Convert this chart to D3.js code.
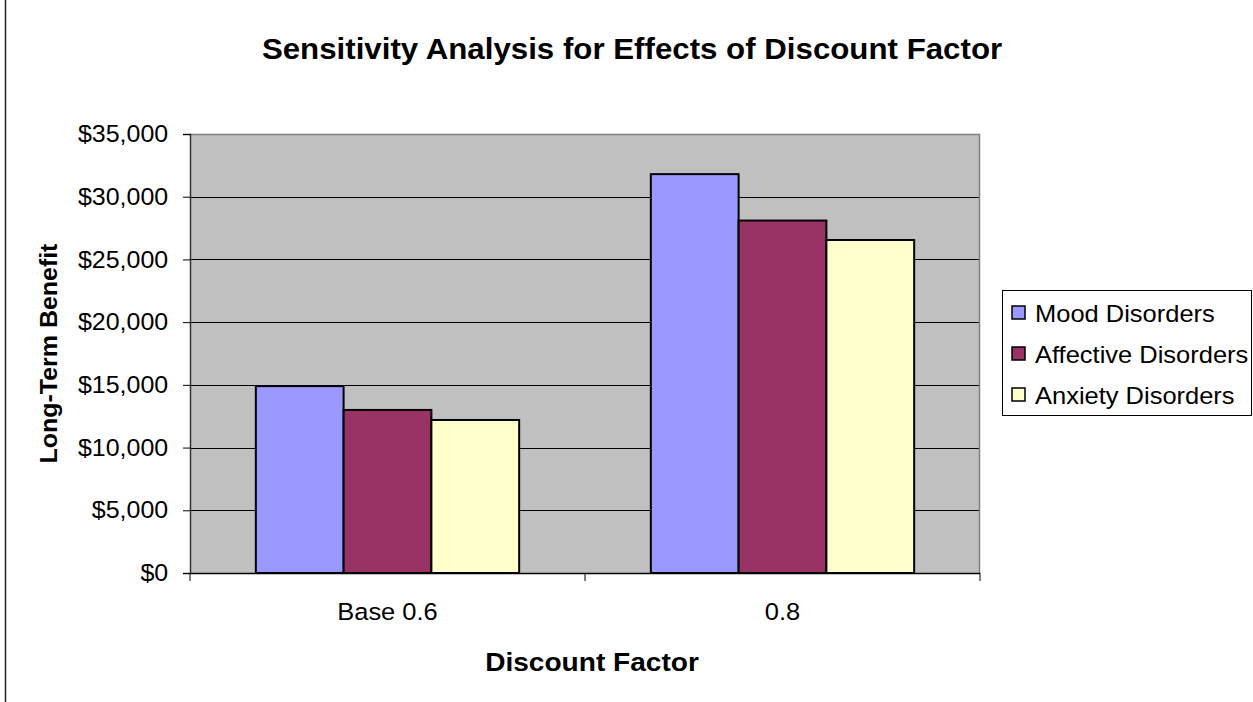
<!DOCTYPE html>
<html>
<head>
<meta charset="utf-8">
<script src="https://cdn.jsdelivr.net/npm/d3@7"></script>
<style>
  html, body { margin: 0; padding: 0; background: #fff; }
  svg { display: block; }
  text { font-family: Arial, "Liberation Sans", sans-serif; fill: #000; }
</style>
</head>
<body>
<svg id="chart" width="1253" height="702"></svg>
<script>
// Chart data
const categories = ["Base 0.6", "0.8"];
const seriesNames = ["Mood Disorders", "Affective Disorders", "Anxiety Disorders"];
const moodValues = [14900, 31800];
const affectiveValues = [13000, 28100];
const anxietyValues = [12200, 26550];
const yTickValues = [0, 5000, 10000, 15000, 20000, 25000, 30000, 35000];
const seriesColors = ["#9999FF", "#993366", "#FFFFCC"];

const seriesValues = [moodValues, affectiveValues, anxietyValues];

const svg = d3.select("#chart");
const W = 1253, H = 702;
const plot = { left: 190, top: 134, right: 980, bottom: 573 };
const SX = 1.04; // slight horizontal widening of the Excel-style text

// Outer chart frame (left edge visible)
svg.append("rect")
  .attr("x", 5.5).attr("y", -10)
  .attr("width", W + 10).attr("height", H + 20)
  .attr("fill", "#fff").attr("stroke", "#222").attr("stroke-width", 1.5);

// Scales
const y = d3.scaleLinear().domain([0, 35000]).range([plot.bottom, plot.top]);
const x0 = d3.scaleBand().domain(categories).range([plot.left, plot.right]).padding(0);
const x1 = d3.scaleBand().domain(seriesNames).range([0, x0.bandwidth()])
  .paddingInner(0).paddingOuter(0.75);

// Plot background
svg.append("rect")
  .attr("x", plot.left).attr("y", plot.top)
  .attr("width", plot.right - plot.left).attr("height", plot.bottom - plot.top)
  .attr("fill", "#C0C0C0");

// Horizontal gridlines
svg.append("g")
  .selectAll("line")
  .data(yTickValues.filter(v => v > 0 && v < 35000))
  .join("line")
  .attr("x1", plot.left).attr("x2", plot.right)
  .attr("y1", d => Math.round(y(d)) + 0.5).attr("y2", d => Math.round(y(d)) + 0.5)
  .attr("stroke", "#000").attr("stroke-width", 1);

// Plot area border (top and right)
svg.append("path")
  .attr("d", `M${plot.left},${plot.top + 0.5}H${plot.right - 0.5}V${plot.bottom}`)
  .attr("fill", "none").attr("stroke", "#808080").attr("stroke-width", 1.5);

// Bars
const groups = svg.append("g")
  .selectAll("g")
  .data(categories)
  .join("g")
  .attr("transform", c => `translate(${x0(c)},0)`);

groups.selectAll("rect")
  .data((c, ci) => seriesNames.map((s, si) => ({ s, si, v: seriesValues[si][ci] })))
  .join("rect")
  .attr("x", d => x1(d.s))
  .attr("y", d => y(d.v))
  .attr("width", x1.bandwidth())
  .attr("height", d => y(0) - y(d.v))
  .attr("fill", d => seriesColors[d.si])
  .attr("stroke", "#000").attr("stroke-width", 2);

// Y axis
const yAxis = svg.append("g")
  .attr("transform", `translate(${plot.left},0)`)
  .call(d3.axisLeft(y).tickValues(yTickValues).tickSize(7).tickPadding(14)
    .tickFormat(d => "$" + d3.format(",")(d)));
yAxis.select(".domain").attr("stroke", "#333").attr("stroke-width", 1.5);
yAxis.selectAll(".tick line").attr("stroke", "#000");
yAxis.selectAll(".tick text")
  .attr("font-size", 24).attr("font-family", "Arial, 'Liberation Sans', sans-serif")
  .attr("fill", "#000")
  .attr("transform", `scale(${SX},1)`);

// X axis
const xAxis = svg.append("g")
  .attr("transform", `translate(0,${plot.bottom})`);
xAxis.append("line")
  .attr("x1", plot.left).attr("x2", plot.right)
  .attr("y1", 0.5).attr("y2", 0.5)
  .attr("stroke", "#000").attr("stroke-width", 1.5);
xAxis.selectAll("line.tick")
  .data([...categories.map(c => x0(c)), plot.right])
  .join("line").attr("class", "tick")
  .attr("x1", d => d).attr("x2", d => d)
  .attr("y1", 0).attr("y2", 8)
  .attr("stroke", "#000");

function stretchedText(sel, x, yPos, str, opts) {
  const sx = opts.sx || SX;
  return sel.append("text")
    .attr("transform", `translate(${x},${yPos})${opts.rotate ? " rotate(" + opts.rotate + ")" : ""} scale(${sx},1)`)
    .attr("text-anchor", opts.anchor || "middle")
    .attr("font-size", opts.size)
    .attr("font-weight", opts.weight || "normal")
    .text(str);
}

// Category labels
categories.forEach(c => {
  stretchedText(svg, x0(c) + x0.bandwidth() / 2, 620, c, { size: 24.5 });
});

// Titles
stretchedText(svg, 632, 59, "Sensitivity Analysis for Effects of Discount Factor",
  { size: 29.5, weight: "bold", sx: 1.06 });
stretchedText(svg, 592, 671, "Discount Factor", { size: 26.5, weight: "bold", sx: 1.06 });
stretchedText(svg, 57, (plot.top + plot.bottom) / 2, "Long-Term Benefit",
  { size: 24, weight: "bold", rotate: -90 });

// Legend
const legend = svg.append("g");
legend.append("rect")
  .attr("x", 1002.5).attr("y", 290.5)
  .attr("width", 249).attr("height", 125)
  .attr("fill", "#fff").attr("stroke", "#000").attr("stroke-width", 1);

const legendRowY = d3.scalePoint().domain(seriesNames).range([313, 395]);
seriesNames.forEach((s, i) => {
  const cy = legendRowY(s);
  legend.append("rect")
    .attr("x", 1012).attr("y", cy - 7)
    .attr("width", 13).attr("height", 13)
    .attr("fill", seriesColors[i]).attr("stroke", "#000").attr("stroke-width", 1.5);
  stretchedText(legend, 1035, cy + 8.5, s, { size: 24.5, anchor: "start" });
});
</script>
</body>
</html>
